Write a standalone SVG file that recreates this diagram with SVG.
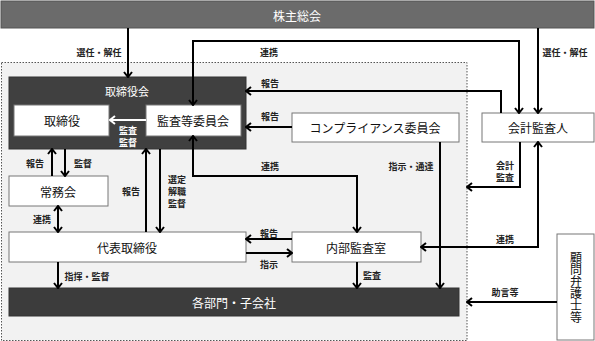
<svg xmlns="http://www.w3.org/2000/svg" width="595" height="341" viewBox="0 0 595 341">
<defs>
<style>
text{font-family:"Noto Sans CJK JP","Noto Sans CJK SC",sans-serif;text-anchor:middle;dominant-baseline:central;}
.lb{font-size:9px;fill:#222;font-weight:bold;}
.bx{font-size:12px;fill:#111;}
.wt{fill:#fff;}
.box{fill:#fff;stroke:#777;stroke-width:1;}
.ln{fill:none;stroke:#000;stroke-width:2;}
.wl{fill:none;stroke:#fff;stroke-width:2;}
.vt{writing-mode:vertical-rl;font-size:12px;fill:#111;}
</style>
<marker id="ah" markerUnits="userSpaceOnUse" viewBox="0 0 10 10" refX="9" refY="5" markerWidth="10" markerHeight="10" orient="auto-start-reverse">
<path d="M4,1 L9,5 L4,9" fill="none" stroke="#000" stroke-width="2"/>
</marker>
<marker id="aw" markerUnits="userSpaceOnUse" viewBox="0 0 10 10" refX="9" refY="5" markerWidth="10" markerHeight="10" orient="auto-start-reverse">
<path d="M4,1 L9,5 L4,9" fill="none" stroke="#fff" stroke-width="2"/>
</marker>
</defs>
<rect x="0" y="0" width="595" height="341" fill="#fff"/>
<rect x="1.5" y="62.5" width="465.5" height="278" fill="#f2f2f2" stroke="#555" stroke-width="1" stroke-dasharray="1.5,1.5"/>

<g id="shareholders">
<rect x="1" y="1" width="593" height="27" fill="#6b6b6b" stroke="#555" stroke-width="1"/>
<text x="297" y="15" class="bx wt">株主総会</text>
</g>
<g id="board">
<rect x="9" y="77" width="237" height="72" fill="#404040" stroke="#333" stroke-width="1"/>
<text x="127" y="91" class="bx wt" style="font-size:11px">取締役会</text>
</g>
<g id="director">
<rect x="14" y="105" width="95" height="31" class="box"/>
<text x="62" y="120" class="bx">取締役</text>
</g>
<g id="audit-committee">
<rect x="146" y="105" width="95" height="31" class="box"/>
<text x="193" y="120" class="bx">監査等委員会</text>
</g>
<g id="managing-board">
<rect x="9" y="176" width="99" height="30" class="box"/>
<text x="58" y="191" class="bx">常務会</text>
</g>
<g id="representative">
<rect x="9" y="232" width="237" height="30" class="box"/>
<text x="127" y="247" class="bx">代表取締役</text>
</g>
<g id="compliance">
<rect x="292" y="113" width="167" height="29" class="box"/>
<text x="375" y="127.5" class="bx">コンプライアンス委員会</text>
</g>
<g id="internal-audit">
<rect x="292" y="232" width="129" height="30" class="box"/>
<text x="356" y="247" class="bx">内部監査室</text>
</g>
<g id="accounting-auditor">
<rect x="482" y="113" width="112" height="29" class="box"/>
<text x="538" y="127.5" class="bx">会計監査人</text>
</g>
<g id="departments">
<rect x="9" y="288" width="450" height="28" fill="#3c3c3c" stroke="#333" stroke-width="1"/>
<text x="234" y="302" class="bx wt">各部門・子会社</text>
</g>
<g id="lawyers">
<rect x="557" y="234" width="37" height="106" class="box"/>
<text x="576" y="287" class="vt">顧問弁護士等</text>
</g>

<g id="connectors">
<path class="ln" d="M128,28 V77" marker-end="url(#ah)"/>
<path class="ln" d="M538,28 V113" marker-end="url(#ah)"/>
<path class="ln" d="M193,105 V41 H519 V113" marker-start="url(#ah)" marker-end="url(#ah)"/>
<path class="ln" d="M501,113 V91 H246" marker-end="url(#ah)"/>
<path class="ln" d="M292,127 H246" marker-end="url(#ah)"/>
<path class="wl" d="M146,120 H110" marker-end="url(#aw)"/>
<path class="ln" d="M52,176 V149" marker-end="url(#ah)"/>
<path class="ln" d="M65,149 V176" marker-end="url(#ah)"/>
<path class="ln" d="M146,232 V149" marker-end="url(#ah)"/>
<path class="ln" d="M160,149 V232" marker-end="url(#ah)"/>
<path class="ln" d="M193,136 V176 H357 V232" marker-start="url(#ah)" marker-end="url(#ah)"/>
<path class="ln" d="M58,206 V232" marker-start="url(#ah)" marker-end="url(#ah)"/>
<path class="ln" d="M58,262 V288" marker-end="url(#ah)"/>
<path class="ln" d="M292,239 H246" marker-end="url(#ah)"/>
<path class="ln" d="M246,253 H292" marker-end="url(#ah)"/>
<path class="ln" d="M357,262 V288" marker-end="url(#ah)"/>
<path class="ln" d="M440,142 V288" marker-end="url(#ah)"/>
<path class="ln" d="M520,142 V187 H467" marker-end="url(#ah)"/>
<path class="ln" d="M421,247 H538 V142" marker-start="url(#ah)" marker-end="url(#ah)"/>
<path class="ln" d="M557,302 H467" marker-end="url(#ah)"/>
</g>

<g id="labels">
<text x="99" y="52" class="lb">選任・解任</text>
<text x="269" y="52" class="lb">連携</text>
<text x="565" y="52" class="lb">選任・解任</text>
<text x="270" y="83" class="lb">報告</text>
<text x="270" y="116" class="lb">報告</text>
<text x="128" y="130" class="lb wt"><tspan x="128" y="130">監査</tspan><tspan x="128" y="142">監督</tspan></text>
<text x="35" y="163" class="lb">報告</text>
<text x="83" y="163" class="lb">監督</text>
<text x="270" y="166" class="lb">連携</text>
<text x="131" y="191" class="lb">報告</text>
<text x="177" y="179" class="lb"><tspan x="177" y="179">選定</tspan><tspan x="177" y="191">解職</tspan><tspan x="177" y="203">監督</tspan></text>
<text x="42" y="219" class="lb">連携</text>
<text x="269" y="233" class="lb">報告</text>
<text x="269" y="264" class="lb">指示</text>
<text x="87" y="276" class="lb">指揮・監督</text>
<text x="372" y="275" class="lb">監査</text>
<text x="411" y="166" class="lb">指示・通達</text>
<text x="505" y="165" class="lb"><tspan x="505" y="165">会計</tspan><tspan x="505" y="177">監査</tspan></text>
<text x="505" y="239" class="lb">連携</text>
<text x="505" y="292" class="lb">助言等</text>
</g>
</svg>
